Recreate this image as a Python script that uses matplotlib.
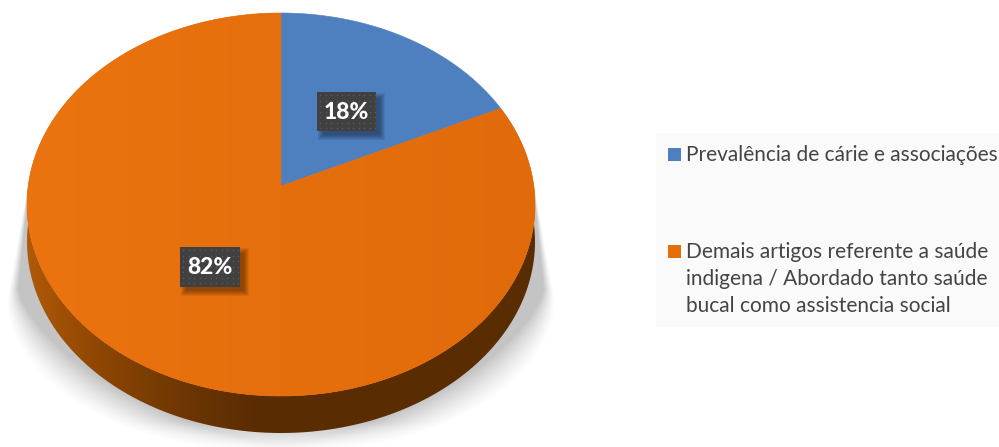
import numpy as np
import matplotlib
matplotlib.use('Agg')
import matplotlib.pyplot as plt
from matplotlib.patches import Polygon, Rectangle

labels = ['Prevalência de cárie e associações',
          'Demais artigos referente a saúde\nindigena / Abordado tanto saúde\nbucal como assistencia social']
values = [18, 82]
colors = ['#4e80bf', '#e56e0b']

# pie geometry in pixels
cx, cy = 281, 204.5
rx, ry = 254, 191.5
apex_dy = 18.5
depth = 37

W, H = 999, 447

fig = plt.figure(figsize=(W / 100, H / 100), dpi=100)
ax = fig.add_axes([0, 0, 1, 1])
ax.set_xlim(0, W)
ax.set_ylim(H, 0)
ax.axis('off')


def project(theta):
    # unit circle seen in perspective, theta clockwise from 12 o'clock
    u, v = np.sin(theta), np.cos(theta)
    k = apex_dy / ry
    w = 1 + k * v
    x = rx * np.sqrt(1 - k * k) * u / w
    y = (ry * v + apex_dy) / w
    return cx + x, cy - y


def hgrad(stops_x, stops_rgb):
    # one pixel tall horizontal gradient across the figure
    px = np.arange(W) + 0.5
    chans = [np.interp(px, stops_x, [s[i] for s in stops_rgb]) for i in range(3)]
    return np.stack(chans, axis=-1)[None, ...] / 255


# soft shadow under the disc, crisp near the top and blurred towards the bottom
yy, xx = np.mgrid[0:H, 0:W]
yy = yy + 0.5
xx = xx + 0.5
half = np.where(yy <= 300, 254 + (yy - 190) / 110 * 20,
                274 * np.sqrt(np.clip(1 - ((yy - 300) / 155) ** 2, 0, 1)))
soft = 1.5 + np.clip(yy - 190, 0, None) * 0.08 + np.clip(yy - 290, 0, None) * 0.45
alpha = np.clip((half - np.abs(xx - cx)) / soft, 0, 1) ** 1.2
alpha *= np.clip((452 - yy) / 30, 0, 1)
alpha[yy < 190] = 0
shadow = np.zeros((H, W, 4))
shadow[..., :3] = 0.77
shadow[..., 3] = alpha
ax.imshow(shadow, extent=(0, W, H, 0), aspect='auto', zorder=1)

# side wall with a left to right gradient
t_all = np.linspace(np.pi / 2, 3 * np.pi / 2, 200)
ex, ey = project(t_all)
wall = Polygon(np.r_[np.c_[ex, ey], np.c_[ex[::-1], ey[::-1] + depth]], closed=True,
               facecolor='none', edgecolor='none')
ax.add_patch(wall)
im = ax.imshow(hgrad([27, 60, 120, 200, 260, 535],
                     [(0xb0, 0x5a, 0x08), (0xa0, 0x50, 0x05), (0x85, 0x42, 0x02),
                      (0x68, 0x34, 0x02), (0x5a, 0x2c, 0x02), (0x5a, 0x2c, 0x02)]),
               extent=(0, W, H, 0), aspect='auto', zorder=2)
im.set_clip_path(wall)

# top face slices
fracs = np.array(values) / sum(values)
start = 0.0
for frac, color in zip(fracs, colors):
    t = np.linspace(start, start + frac * 2 * np.pi, 300)
    ex, ey = project(t)
    pts = np.r_[[[cx, cy - apex_dy]], np.c_[ex, ey]]
    ax.add_patch(Polygon(pts, closed=True, facecolor=color, edgecolor=color, lw=0.4, zorder=3))
    start += frac * 2 * np.pi

# the large slice is a little brighter on its left side
big = Polygon(pts, closed=True, facecolor='none', edgecolor='none')
ax.add_patch(big)
face = ax.imshow(hgrad([27, 535], [(0xeb, 0x74, 0x10), (0xe1, 0x6a, 0x0a)]),
                 extent=(0, W, H, 0), aspect='auto', zorder=3.5)
face.set_clip_path(big)

# value labels
boxes = [(317, 92, 59, 39), (180, 247, 60, 40)]
for val, (bx, by, bw, bh) in zip(values, boxes):
    for i in range(6):
        g = i * 1.0
        ax.add_patch(Rectangle((bx + 6 - g, by + 6 - g), bw - 2 + 2 * g, bh - 2 + 2 * g,
                               facecolor='black', edgecolor='none', alpha=0.07, zorder=4))
    ax.add_patch(Rectangle((bx, by), bw, bh, facecolor='#404040', edgecolor='none', zorder=5))
    dx, dy = np.meshgrid(np.arange(bx + 3, bx + bw, 5.5), np.arange(by + 3, by + bh, 5.5))
    ax.scatter(dx, dy, s=1.2, c='#5a5a5a', linewidths=0, zorder=6)
    ax.text(bx + bw / 2, by + bh / 2 + 1, f'{val}%', ha='center', va='center', color='white',
            family='Lato', weight='black', fontsize=16.5, zorder=7)

# legend block
ax.add_patch(Rectangle((656, 133), W - 656, 194, facecolor='#fafafa', edgecolor='none', zorder=1))
ax.add_patch(Rectangle((668, 148), 13, 13, facecolor=colors[0], edgecolor='none', zorder=2))
ax.add_patch(Rectangle((668, 245), 13, 13, facecolor=colors[1], edgecolor='none', zorder=2))
ax.text(686, 155, labels[0], ha='left', va='center', color='#444444', family='Lato', fontsize=15, zorder=3)
ax.text(686, 279, labels[1], ha='left', va='center', color='#444444', family='Lato', fontsize=15,
        linespacing=1.43, zorder=3)

fig.savefig('out.png', dpi=100)
